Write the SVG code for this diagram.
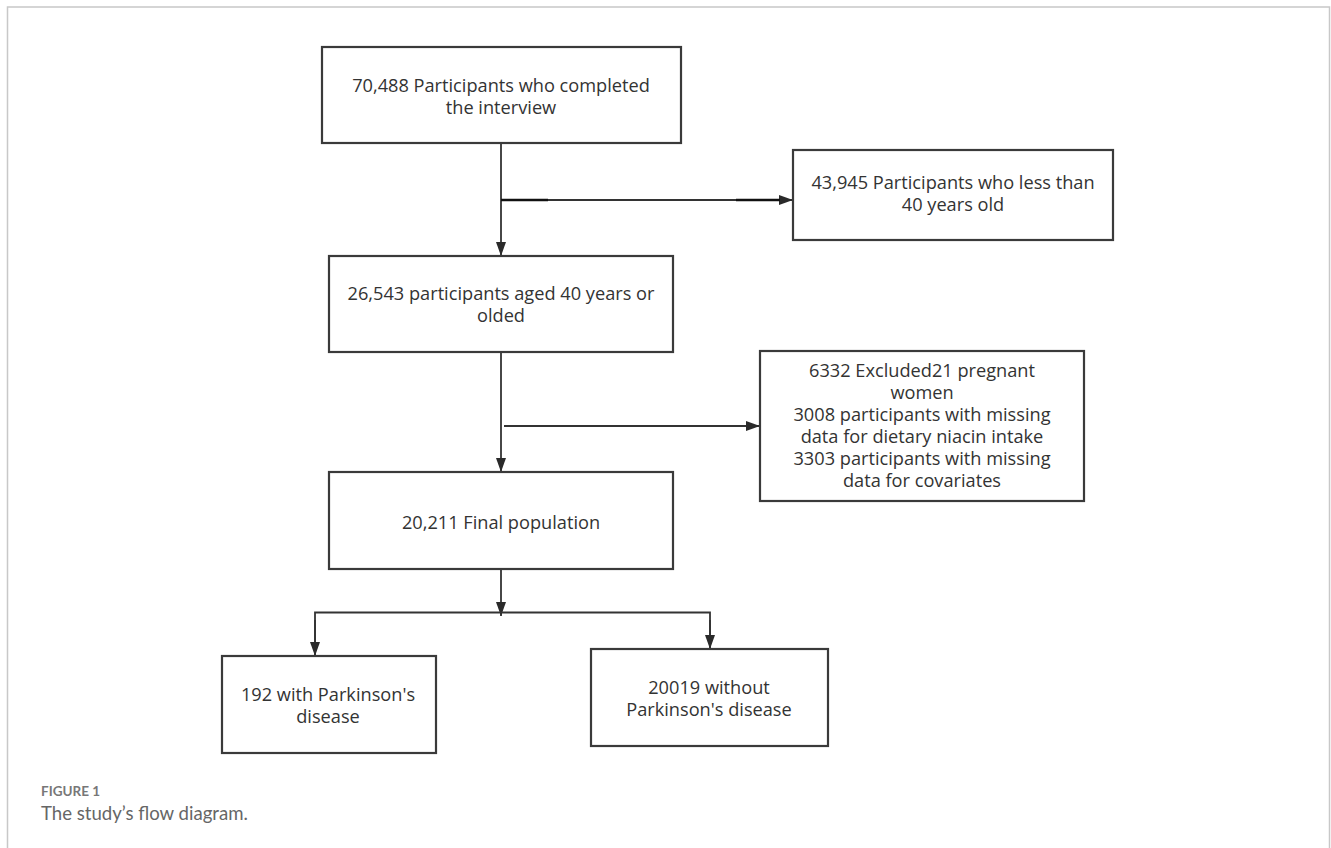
<svg xmlns="http://www.w3.org/2000/svg" width="1331" height="848" viewBox="0 0 1331 848">
<style>
.box{fill:#fff;stroke:#3a3a3a;stroke-width:2.2}
.t{font-family:"Open Sans","Noto Sans",sans-serif;font-size:18.2px;fill:#333;text-anchor:middle}
.ln{stroke:#333;stroke-width:1.8;fill:none}
.cap1{font-family:Lato,"Open Sans",sans-serif;font-size:13.5px;font-weight:bold;fill:#777}
.cap2{font-family:Lato,"Open Sans",sans-serif;font-size:18.6px;fill:#666}
</style>
<defs>
<marker id="ah" viewBox="0 0 14 10" refX="14" refY="5" markerWidth="14" markerHeight="10" markerUnits="userSpaceOnUse" orient="auto">
<path d="M0,0 L14,5 L0,10 Z" fill="#2a2a2a"/>
</marker>
</defs>
<rect x="7.5" y="7" width="1322" height="850" fill="#fff" stroke="#c8c8c8" stroke-width="1.5"/>
<g id="connectors">
<line class="ln" x1="501" y1="143" x2="501" y2="256" marker-end="url(#ah)"/>
<line class="ln" x1="501" y1="200" x2="793" y2="200" marker-end="url(#ah)"/>
<line x1="501" y1="200" x2="548" y2="200" stroke="#111" stroke-width="2.4"/>
<line x1="736" y1="200" x2="780" y2="200" stroke="#111" stroke-width="2.4"/>
<line class="ln" x1="501" y1="352" x2="501" y2="472" marker-end="url(#ah)"/>
<line class="ln" x1="504" y1="426" x2="760" y2="426" marker-end="url(#ah)"/>
<line class="ln" x1="501" y1="569" x2="501" y2="616" marker-end="url(#ah)"/>
<polyline class="ln" points="315,656 315,612.5 710,612.5 710,649"/>
<line class="ln" x1="315" y1="620" x2="315" y2="656" marker-end="url(#ah)"/>
<line class="ln" x1="710" y1="620" x2="710" y2="649" marker-end="url(#ah)"/>
</g>
<g id="n1">
<rect class="box" x="322" y="47" width="359" height="96"/>
<text class="t" x="501" y="92">70,488 Participants who completed</text>
<text class="t" x="501" y="114">the interview</text>
</g>
<g id="n2">
<rect class="box" x="793" y="150" width="320" height="90"/>
<text class="t" x="953" y="189">43,945 Participants who less than</text>
<text class="t" x="953" y="211">40 years old</text>
</g>
<g id="n3">
<rect class="box" x="329" y="256" width="344" height="96"/>
<text class="t" x="501" y="300">26,543 participants aged 40 years or</text>
<text class="t" x="501" y="322">olded</text>
</g>
<g id="n4">
<rect class="box" x="760" y="351" width="324" height="150"/>
<text class="t" x="922" y="377">6332 Excluded21 pregnant</text>
<text class="t" x="922" y="399">women</text>
<text class="t" x="922" y="421">3008 participants with missing</text>
<text class="t" x="922" y="443">data for dietary niacin intake</text>
<text class="t" x="922" y="465">3303 participants with missing</text>
<text class="t" x="922" y="487">data for covariates</text>
</g>
<g id="n5">
<rect class="box" x="329" y="472" width="344" height="97"/>
<text class="t" x="501" y="529">20,211 Final population</text>
</g>
<g id="n6">
<rect class="box" x="222" y="656" width="214" height="97"/>
<text class="t" x="328" y="701">192 with Parkinson's</text>
<text class="t" x="328" y="723">disease</text>
</g>
<g id="n7">
<rect class="box" x="591" y="649" width="237" height="97"/>
<text class="t" x="709" y="694">20019 without</text>
<text class="t" x="709" y="716">Parkinson's disease</text>
</g>
<g id="caption">
<text class="cap1" x="41" y="796">FIGURE 1</text>
<text class="cap2" x="41" y="820">The study’s flow diagram.</text>
</g>
</svg>
